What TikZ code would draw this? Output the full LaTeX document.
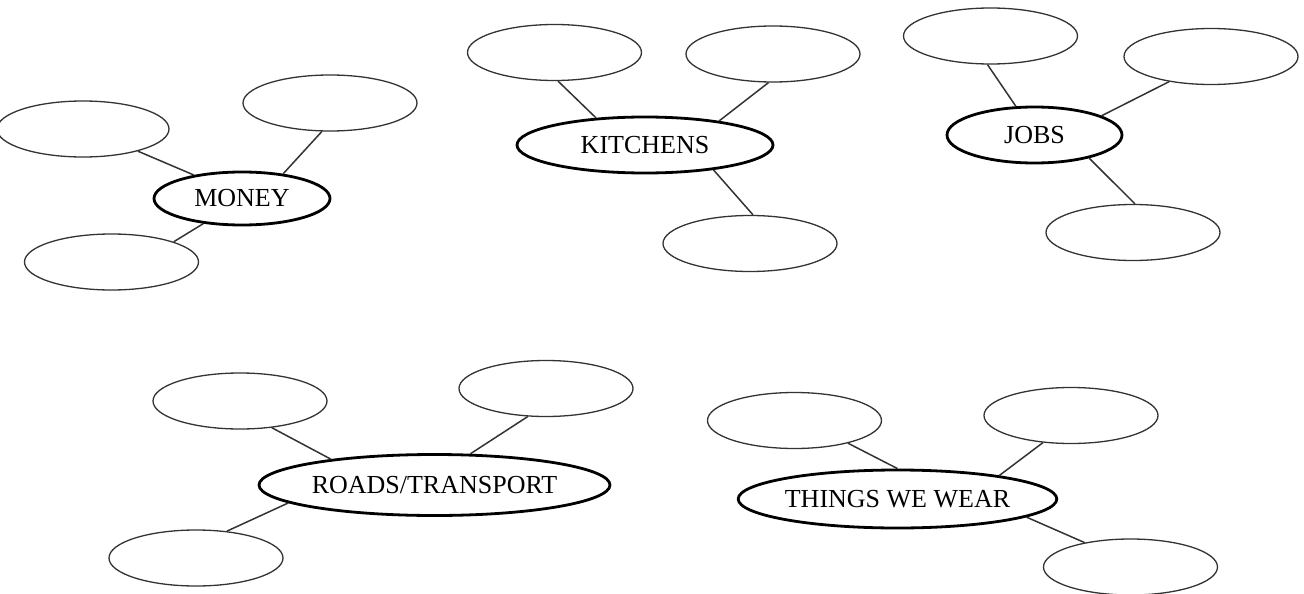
\documentclass[tikz,border=0pt]{standalone}
\usepackage{fontspec}
\setmainfont{Liberation Serif}
\usetikzlibrary{shapes.geometric}
\begin{document}
\begin{tikzpicture}[x=1pt,y=-1pt,
  leaf/.style={ellipse,draw=black!80,line width=1.3pt,minimum width=174pt,minimum height=56pt,inner sep=0pt},
  hub/.style={ellipse,draw=black,line width=2.8pt,inner sep=0pt,font=\fontsize{26}{30}\selectfont},
  link/.style={draw=black!80,line width=1.5pt}]
\fill[white] (0,0) rectangle (1304,594);
\useasboundingbox (0,0) rectangle (1304,594);
% MONEY
\node[hub,minimum width=176pt,minimum height=53pt] (money) at (242,198.5) {MONEY};
\node[leaf,minimum width=172pt] (m1) at (83,129) {};
\node[leaf] (m2) at (330,103) {};
\node[leaf] (m3) at (111.5,262) {};
\draw[link] (m1.-22.5) -- (money.154.8);
\draw[link] (m2.-106) -- (money.31.9);
\draw[link] (m3.18) -- (money.-147.5);
% KITCHENS
\node[hub,minimum width=256pt,minimum height=56pt] (kit) at (645,145) {KITCHENS};
\node[leaf] (k1) at (554.5,52.5) {};
\node[leaf] (k2) at (773,54) {};
\node[leaf] (k3) at (750,243.5) {};
\draw[link] (k1.-83) -- (kit.151.6);
\draw[link] (k2.-99.8) -- (kit.18.2);
\draw[link] (k3.84) -- (kit.-20.4);
% JOBS
\node[hub,minimum width=175pt,minimum height=56pt] (jobs) at (1034.5,135) {JOBS};
\node[leaf] (j1) at (990.5,36) {};
\node[leaf] (j2) at (1211,56.5) {};
\node[leaf] (j3) at (1133,232.5) {};
\draw[link] (j1.-96.9) -- (jobs.123.5);
\draw[link] (j2.-149.3) -- (jobs.16.3);
\draw[link] (j3.86) -- (jobs.-23.7);
% ROADS/TRANSPORT
\node[hub,minimum width=351pt,minimum height=61pt] (roads) at (434.5,485) {ROADS/TRANSPORT};
\node[leaf] (r1) at (240,401) {};
\node[leaf] (r2) at (546,388.5) {};
\node[leaf] (r3) at (196,558) {};
\draw[link] (r1.-40) -- (roads.166.3);
\draw[link] (r2.-123.7) -- (roads.41);
\draw[link] (r3.41) -- (roads.-173);
% THINGS WE WEAR
\node[hub,minimum width=307pt,minimum height=58pt] (wear) at (897.5,499) {THINGS WE WEAR};
\node[leaf] (w1) at (794.5,420.5) {};
\node[leaf] (w2) at (1071,415.5) {};
\node[leaf] (w3) at (1130.5,567) {};
\draw[link] (w1.-23.2) -- (wear.90);
\draw[link] (w2.-136.5) -- (wear.13.3);
\draw[link] (w3.152.2) -- (wear.-8.6);
\end{tikzpicture}
\end{document}
